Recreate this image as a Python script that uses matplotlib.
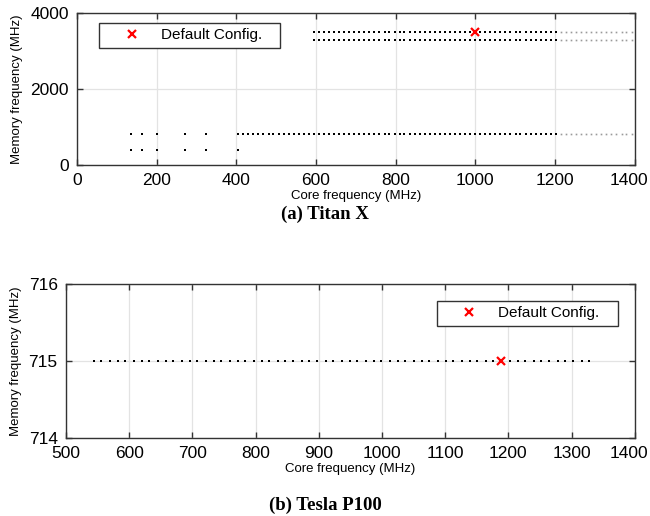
import numpy as np
import matplotlib.pyplot as plt
import matplotlib.transforms as mtransforms

# Titan X: supported core clocks (MHz) per memory clock
titan_mem_levels = [3505, 3304, 810, 405]
titan_core_high = [595, 607, 620, 632, 645, 658, 670, 683, 696, 708, 721, 734, 746, 759,
                   772, 784, 797, 810, 822, 835, 848, 860, 873, 886, 898, 911, 924, 936,
                   949, 962, 974, 987, 1000, 1012, 1025, 1037, 1050, 1063, 1075, 1088,
                   1101, 1113, 1126, 1139, 1151, 1164, 1177, 1189, 1202]
titan_core_mid = [405, 417, 430, 443, 455, 468, 481, 493, 506, 519, 531, 544, 557, 569,
                  582] + titan_core_high
titan_core_boost = [1215, 1227, 1240, 1253, 1265, 1278, 1291, 1303, 1316, 1329, 1341,
                    1354, 1367, 1379, 1392]
titan_core_low = [135, 162, 202, 270, 324]
titan_default = (1000, 3505)

# Tesla P100: single memory clock
p100_mem = 715
p100_core = [544, 556, 569, 582, 594, 607, 620, 632, 645, 658, 670, 683, 696, 708, 721,
             734, 746, 759, 772, 784, 797, 810, 822, 835, 847, 860, 873, 885, 898, 911,
             923, 936, 949, 961, 974, 987, 999, 1012, 1025, 1037, 1050, 1063, 1075, 1088,
             1101, 1113, 1126, 1139, 1151, 1164, 1176, 1189, 1202, 1215, 1227, 1240, 1252,
             1265, 1278, 1290, 1303, 1316, 1328]
p100_default = (1189, 715)

plt.rcParams['font.family'] = ['Liberation Sans', 'DejaVu Sans']

fig = plt.figure(figsize=(6.5, 5.16), dpi=100)
ax1 = fig.add_axes([0.1185, 0.680, 0.858, 0.2946])
ax2 = fig.add_axes([0.1015, 0.151, 0.875, 0.2984])


def style(ax):
    ax.grid(True, color='#e3e3e3', lw=0.9)
    ax.set_axisbelow(True)
    for s in ax.spines.values():
        s.set_color('#333333')
        s.set_linewidth(1.0)
    ax.tick_params(direction='in', top=True, right=True, length=4, width=1,
                   color='#333333', labelsize=12.5, pad=6)
    ax.set_xlabel('Core frequency (MHz)', fontsize=9.5, labelpad=1)
    ax.set_ylabel('Memory frequency (MHz)', fontsize=9.5, labelpad=5)
    # last x label sits a little inside, as in the original export
    lab = ax.get_xticklabels()[-1]
    lab.set_transform(lab.get_transform() +
                      mtransforms.ScaledTranslation(-6 / 100, 0, fig.dpi_scale_trans))


def add_legend(ax, loc, anchor):
    ax.legend(loc=loc, bbox_to_anchor=anchor, borderaxespad=0,
              fancybox=False, edgecolor='#333333', framealpha=1, fontsize=11,
              handletextpad=0.1, borderpad=0.35, handlelength=3.6)


dot = dict(marker='s', ms=1.8, mew=0, ls='none', color='black')
faint = dict(marker='s', ms=1.2, mew=0, ls='none', color='#9a9a9a')
legend_label = 'Default Config.   '

for mem in titan_mem_levels[:2]:
    ax1.plot(titan_core_high, [mem] * len(titan_core_high), **dot)
    ax1.plot(titan_core_boost, [mem] * len(titan_core_boost), **faint)
mem = titan_mem_levels[2]
ax1.plot(titan_core_low + titan_core_mid, [mem] * (len(titan_core_low) + len(titan_core_mid)), **dot)
ax1.plot(titan_core_boost, [mem] * len(titan_core_boost), **faint)
mem = titan_mem_levels[3]
ax1.plot(titan_core_low + [405], [mem] * (len(titan_core_low) + 1), **dot)
ax1.plot(*titan_default, ls='none', marker='x', color='red', ms=6, mew=1.6,
         label=legend_label)
ax1.set_xlim(0, 1400)
ax1.set_ylim(0, 4000)
ax1.set_xticks(np.arange(0, 1401, 200))
ax1.set_yticks([0, 2000, 4000])
style(ax1)
add_legend(ax1, 'upper left', (0.039, 0.936))

ax2.plot(p100_core, [p100_mem] * len(p100_core), **dot)
ax2.plot(*p100_default, ls='none', marker='x', color='red', ms=6, mew=1.6,
         label=legend_label)
ax2.set_xlim(500, 1400)
ax2.set_ylim(714, 716)
ax2.set_xticks(np.arange(500, 1401, 100))
ax2.set_yticks([714, 715, 716])
style(ax2)
add_legend(ax2, 'upper right', (0.970, 0.890))

fig.text(0.5, 1 - 214 / 516, '(a) Titan X', ha='center', va='center',
         fontsize=13.5, fontweight='bold', family='Liberation Serif')
fig.text(0.5, 1 - 505 / 516, '(b) Tesla P100', ha='center', va='center',
         fontsize=13.5, fontweight='bold', family='Liberation Serif')

fig.savefig('out.png', dpi=100)
